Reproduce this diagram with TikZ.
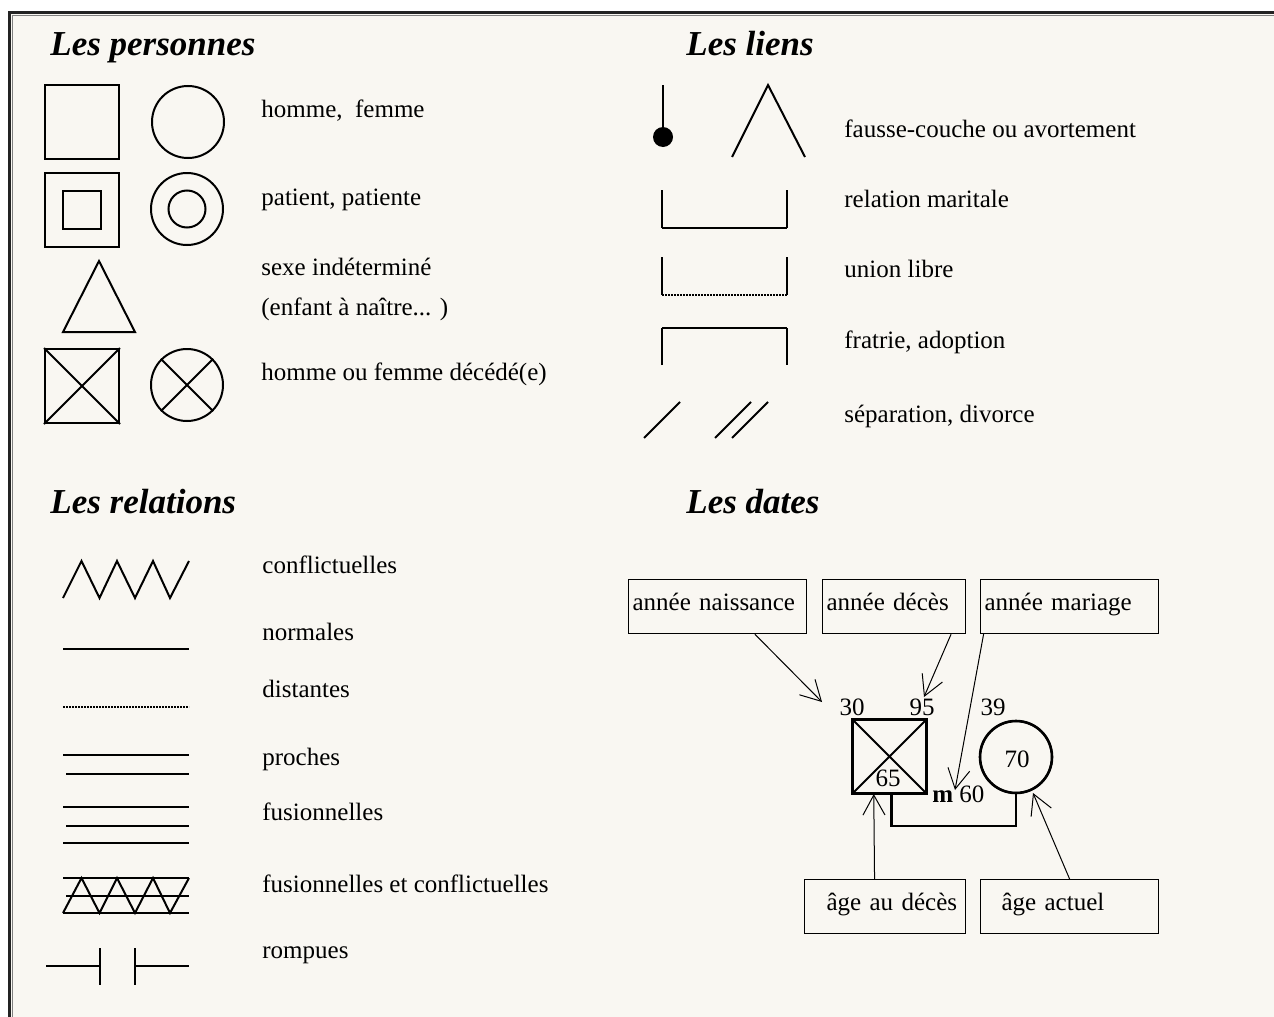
\documentclass[tikz,border=0pt]{standalone}
\usepackage{fontspec}
\setmainfont{Liberation Serif}
\usetikzlibrary{arrows.meta}
\usetikzlibrary{calc}
\definecolor{paper}{RGB}{249,247,242}
\definecolor{rule}{RGB}{35,35,35}
\tikzset{
  sym/.style={line width=1pt},
  thk/.style={line width=1.4pt},
  dots/.style={line width=0.8pt, dash pattern=on 0.9pt off 0.6pt},
  sq/.style={draw, line width=1pt, minimum size=37pt, inner sep=0pt},
  rd/.style={draw, circle, line width=1pt, minimum size=36pt, inner sep=0pt},
  lbl/.style={anchor=base west, inner sep=0pt, font=\fontsize{12.5}{15}\selectfont},
  ttl/.style={anchor=base west, inner sep=0pt, font=\fontsize{17.5}{21}\selectfont\bfseries\itshape},
  dbox/.style={draw, line width=0.6pt, anchor=north west, minimum height=27pt, inner ysep=0pt, inner xsep=2pt, align=left, text height=8pt, text depth=4pt, font=\fontsize{12.5}{15}\selectfont},
  pad/.style={execute at begin node={\hspace*{#1}}},
  num/.style={anchor=base, inner sep=0pt, font=\fontsize{12.5}{15}\selectfont},
  arr/.style={line width=0.5pt, -{Straight Barb[length=10pt,width=11pt]}}
}
\newcommand\hsq[4]{
  \node[sq, minimum size=#4] (#1) at (#2,#3) {};
}
\newcommand\fcirc[4]{
  \node[rd, minimum size=#4] (#1) at (#2,#3) {};
}
\newcommand\lgd[4]{\node[lbl] (#1) at (#2,#3) {#4};}
\newcommand\zz[2]{
  \draw[sym] (63,#2) -- (81.5,#1) -- (99.5,#2) -- (117,#1) -- (135,#2) -- (153,#1) -- (170,#2) -- (189,#1);
}

\begin{document}
\begin{tikzpicture}[x=0.5pt, y=-0.5pt]
\useasboundingbox (0,0) rectangle (1274,1017);
\fill[paper] (9,12) rectangle (1274,1017);
\draw[line width=1.3pt, rule] (9.5,1017) -- (9.5,12.5) -- (1274,12.5);
\draw[line width=0.7pt, gray] (12.5,1017) -- (12.5,15.5) -- (1274,15.5);

\node[ttl] (tpers) at (50,55) {Les personnes};
\node[ttl] (tliens) at (686,55) {Les liens};
\node[ttl] (trel) at (50,513) {Les relations};
\node[ttl] (tdates) at (686,513) {Les dates};

% les personnes
\hsq{h1}{82}{122}{37pt}
\fcirc{f1}{188}{122}{36pt}
\hsq{h2}{82}{210}{37pt}
\hsq{h2i}{82}{210}{19pt}
\fcirc{f2}{187}{209}{36pt}
\fcirc{f2i}{187}{209}{18.5pt}
\draw[sym] (63,332) -- (99,261) -- (135,332) -- cycle;
\hsq{h3}{82}{386}{37pt}
\fcirc{f3}{187}{385}{36pt}
\draw[sym] (h3.north west) -- (h3.south east) (h3.north east) -- (h3.south west);
\draw[sym] (f3.north west) -- (f3.south east) (f3.north east) -- (f3.south west);
\lgd{l1}{261}{117}{homme, \ femme}
\lgd{l2}{261}{205}{patient, patiente}
\lgd{l3}{261}{275}{sexe indéterminé}
\lgd{l4}{261}{315}{(enfant à naître... )}
\lgd{l5}{261}{380}{homme ou femme décédé(e)}

% les liens
\draw[sym] (663,85) -- (663,137);
\fill (663,137) circle (10);
\draw[sym] (732,157) -- (768,85) -- (805,157);
\draw[sym] (662,190) -- (662,228) (787,190) -- (787,228);
\draw[thk] (662,228) -- (787,228);
\draw[sym] (662,257) -- (662,295) (787,257) -- (787,295);
\draw[dots] (662,295) -- (787,295);
\draw[sym] (662,365) -- (662,328) (787,328) -- (787,365);
\draw[thk] (662,328) -- (787,328);
\draw[sym] (644,438) -- (680,402) (715,438) -- (751,402) (732,438) -- (768,402);
\lgd{k1}{844}{137}{fausse-couche ou avortement}
\lgd{k2}{844}{207}{relation maritale}
\lgd{k3}{844}{277}{union libre}
\lgd{k4}{844}{348}{fratrie, adoption}
\lgd{k5}{844}{422}{séparation, divorce}

% les relations
\zz{561}{598}
\draw[sym] (63,649) -- (189,649);
\draw[dots] (63,707) -- (189,707);
\draw[sym] (63,755) -- (189,755);
\draw[thk] (66,774) -- (189,774);
\draw[sym] (63,807) -- (189,807) (63,843) -- (189,843);
\draw[thk] (66,826) -- (189,826);
\draw[thk] (63,878) -- (189,878) (66,896) -- (189,896);
\draw[sym] (63,913) -- (189,913);
\zz{878}{913}
\draw[sym] (46,966) -- (100,966) (100,948) -- (100,985) (135,948) -- (135,985) (135,966) -- (189,966);
%\draw[sym] (46,966) -- (189,966);
\lgd{r1}{262}{573}{conflictuelles}
\lgd{r2}{262}{640}{normales}
\lgd{r3}{262}{697}{distantes}
\lgd{r4}{262}{765}{proches}
\lgd{r5}{262}{820}{fusionnelles}
\lgd{r6}{262}{892}{fusionnelles et conflictuelles}
\lgd{r7}{262}{958}{rompues}

% les dates
\node[dbox, text width=85pt, inner xsep=2pt] (nais) at (628,579) {année naissance};
\node[dbox, text width=67.5pt] (deces) at (822,579) {année décès};
\node[dbox, text width=85pt] (mar) at (980,579) {année mariage};
\node[dbox, text width=76.5pt, pad=9pt] (agedc) at (804,879) {âge au décès};
\node[dbox, text width=85pt, pad=8.5pt] (ageac) at (980,879) {âge actuel};
\hsq{dec}{889.5}{756.5}{36.5pt}
\fcirc{ep}{1016}{757}{36pt}
\draw[line width=1.3pt] (dec.north west) rectangle (dec.south east);
\draw[line width=1.3pt] (ep) circle (36);
\draw[sym] (dec.north west) -- (dec.south east) (dec.north east) -- (dec.south west);
\draw[line width=1.3pt] ($(dec.south west)!0.53!(dec.south east)$) -- ++(0,32) -| (ep.south);
\node[num] (n30) at (852,715) {30};
\node[num] (n95) at (922,715) {95};
\node[num] (n39) at (993,715) {39};
\node[num] (n65) at (888,786) {65};
\node[num] (n70) at (1017,767) {70};
\node[lbl] (m60) at (932,802) {\textbf{m} 60};
\coordinate (t1) at (822,702);
\coordinate (t2) at (924,697);
\coordinate (t3) at (955,790);
\coordinate (t5) at (1033,793);
\draw[arr] ($(nais.south west)!0.708!(nais.south east)$) -- (t1);
\draw[arr] ($(deces.south west)!0.895!(deces.south east)$) -- (t2);
\draw[arr] ($(mar.south west)!0.02!(mar.south east)$) -- (t3);
\draw[arr] ($(agedc.north west)!0.435!(agedc.north east)$) -- ($(dec.south west)!0.29!(dec.south east)$);
\draw[arr] (ageac.north) -- (t5);
\end{tikzpicture}
\end{document}
